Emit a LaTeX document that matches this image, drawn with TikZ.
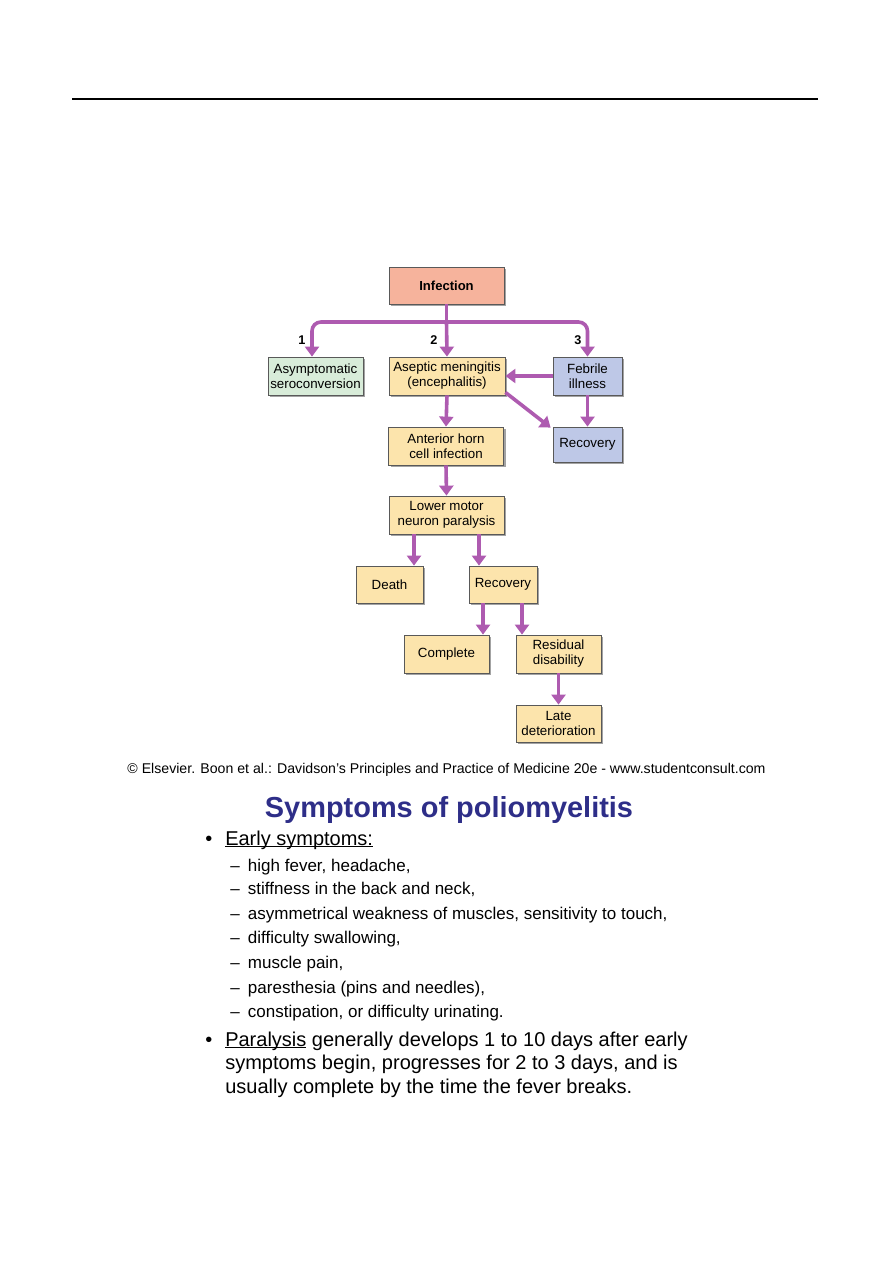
\documentclass[tikz,border=0pt]{standalone}
\usepackage{fontspec}
\setmainfont{Liberation Sans}
\usepackage{tikz}
\usetikzlibrary{positioning,arrows.meta,shadows}

\definecolor{infcol}{HTML}{F6B39C}
\definecolor{yelcol}{HTML}{FCE4AC}
\definecolor{grncol}{HTML}{D8ECD9}
\definecolor{blucol}{HTML}{BEC8E7}
\definecolor{flowcol}{HTML}{AE5BB0}
\definecolor{titlecol}{HTML}{2E2E88}

\def\px{0.75pt}
% underline close to the baseline
\newcommand\ulword[1]{\setbox0\hbox{#1}\rlap{\rule[-1.6pt]{\wd0}{0.95pt}}\box0\relax}

\begin{document}
\begin{tikzpicture}[
  x=0.75pt, y=-0.75pt,
  box/.style={draw=black!65, line width=0.6pt, inner sep=0pt, align=center,
    font=\fontsize{10}{11.3}\selectfont, minimum height=38*\px,
    drop shadow={shadow xshift=2.2*\px, shadow yshift=-2.2*\px, fill=black!45, opacity=0.8}},
  infect/.style={box, fill=infcol, font=\fontsize{9.8}{11}\selectfont\bfseries},
  stage/.style={box, fill=yelcol},
  silent/.style={box, fill=grncol},
  mild/.style={box, fill=blucol},
  flow/.style={draw=flowcol, line width=3.6*\px, -{Triangle[length=10*\px, width=14*\px]}},
  route/.style={font=\fontsize{9.5}{10}\selectfont\bfseries},
  item/.style={anchor=base west, inner sep=0pt, font=\fontsize{12.75}{14}\selectfont},
  point/.style={anchor=base west, inner sep=0pt, font=\fontsize{15}{17}\selectfont}
]
\useasboundingbox (0,0) rectangle (893,1263);

% ======================================================
% =============== PAGE RULE ============================
% ======================================================
\coordinate (ruleL) at (72,99);
\coordinate (ruleR) at (818,99);
\draw[line width=1.2*\px] (ruleL) -- (ruleR);

% ======================================================
% =============== FLOW CHART ===========================
% ======================================================
\node (inf) [infect, minimum width=115*\px, minimum height=37*\px] at (446.5,285.5) {Infection};

\node (asym) [silent, minimum width=95*\px] at (315.5,376) {Asymptomatic\\seroconversion};
\node (asep) [stage, minimum width=116*\px] at (447,376) {Aseptic meningitis\\(encephalitis)};
\node (feb)  [mild, minimum width=69*\px] at (587.5,376) {Febrile\\illness};
\node (rec1) [mild, minimum width=69*\px, minimum height=35*\px] at (587.5,444.5) {Recovery};

\node (ahc) [stage, minimum width=115*\px] at (446,446) {Anterior horn\\cell infection};
\node (lmn) [stage, minimum width=115*\px] at (446.5,515) {Lower motor\\neuron paralysis};

\node (death) [stage, minimum width=67*\px, minimum height=37*\px] at (389.5,584.5) {Death};
\node (rec2)  [stage, minimum width=68*\px, minimum height=37*\px] at (503,584.5) {Recovery};

\node (compl) [stage, minimum width=85*\px] at (446.5,654) {Complete};
\node (resid) [stage, minimum width=85*\px] at (558.5,654) {Residual\\disability};
\node (late)  [stage, minimum width=85*\px, minimum height=37*\px] at (558.5,723.5) {Late\\deterioration};

% branch from infection
\coordinate (fork) at (446.5,322);
\draw[draw=flowcol, line width=3.6*\px] (inf.south) -- (fork);
\draw[flow, {Triangle[length=10*\px, width=14*\px]}-{Triangle[length=10*\px, width=14*\px]}, rounded corners=9*\px]
  ([xshift=-3.5*\px]asym.north) |- (fork) -| (feb.north);
\draw[flow] (fork) -- (asep.north);

\node (r1) [route] at (302,340) {1};
\node (r2) [route] at (434,340) {2};
\node (r3) [route] at (578,340) {3};

% arrows between stages
\draw[flow] (feb.west) -- (asep.east);
\draw[flow] (feb.south) -- (rec1.north);
\draw[flow] ([yshift=3*\px]asep.south east) -- ([xshift=-2*\px,yshift=-1*\px]rec1.north west);
\draw[flow] (asep.south) -- (ahc.north);
\draw[flow] (ahc.south) -- (lmn.north);
\draw[flow] ([xshift=-32.5*\px]lmn.south) -- ([xshift=-32.5*\px]lmn.south |- death.north);
\draw[flow] ([xshift=32.5*\px]lmn.south) -- ([xshift=32.5*\px]lmn.south |- rec2.north);
\draw[flow] ([xshift=-20*\px]rec2.south) -- ([xshift=-20*\px]rec2.south |- compl.north);
\draw[flow] ([xshift=19*\px]rec2.south) -- ([xshift=19*\px]rec2.south |- resid.north);
\draw[flow] (resid.south) -- (late.north);

% source line
\node (src) [anchor=base, inner sep=0pt, font=\fontsize{10.6}{12}\selectfont] at (446.5,773)
  {\textcopyright{} Elsevier. Boon et al.: Davidson's Principles and Practice of Medicine 20e - www.studentconsult.com};

% ======================================================
% =============== SYMPTOMS TEXT ========================
% ======================================================
\node (title) [anchor=base, inner sep=0pt, text=titlecol, font=\fontsize{21.7}{24}\selectfont\bfseries] at (449,817) {Symptoms of poliomyelitis};

\node (b1) [point] at (205,845) {\textbullet};
\node (early) [point] at (225,845) {\ulword{Early symptoms:}};

\node (s1) [item] at (230,871) {–\hspace{6.2pt}high fever, headache,};
\node (s2) [item] at (230,894) {–\hspace{6.2pt}stiffness in the back and neck,};
\node (s3) [item] at (230,919) {–\hspace{6.2pt}asymmetrical weakness of muscles, sensitivity to touch,};
\node (s4) [item] at (230,943) {–\hspace{6.2pt}difficulty swallowing,};
\node (s5) [item] at (230,968) {–\hspace{6.2pt}muscle pain,};
\node (s6) [item] at (230,993) {–\hspace{6.2pt}paresthesia (pins and needles),};
\node (s7) [item] at (230,1017) {–\hspace{6.2pt}constipation, or difficulty urinating.};

\node (b2) [point] at (205,1046) {\textbullet};
\node (p1) [point] at (225,1046) {\ulword{Paralysis} generally develops 1 to 10 days after early};
\node (p2) [point] at (225,1069) {symptoms begin, progresses for 2 to 3 days, and is};
\node (p3) [point] at (225,1093) {usually complete by the time the fever breaks.};

\end{tikzpicture}
\end{document}
